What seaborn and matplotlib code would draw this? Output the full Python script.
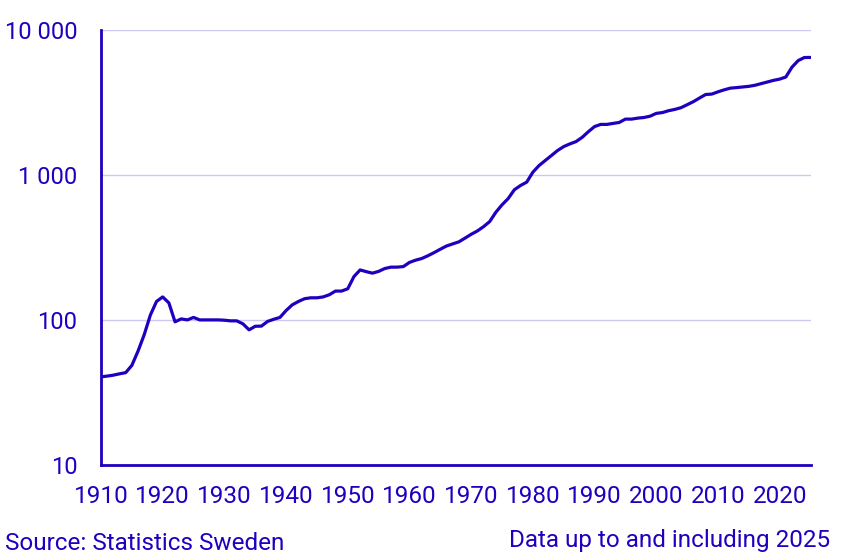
import matplotlib
matplotlib.use("Agg")
import matplotlib.pyplot as plt
import seaborn as sns
import pandas as pd
from matplotlib.ticker import FixedLocator, NullLocator

years = list(range(1910, 2026))
index_values = [
    40.5, 41, 41.6, 42.5, 43.3, 48.6, 60.9, 79, 108, 134,      # 1910-1919
    144, 131, 97, 101.6, 100, 104, 100, 100, 100, 100,         # 1920-1929
    99.5, 98.5, 98.5, 94, 85.4, 90.4, 90.6, 97.6, 101, 104,    # 1930-1939
    116, 127, 134, 140, 142, 142, 144, 149, 158, 158,          # 1940-1949
    164, 199, 221, 215, 210, 216, 226, 231, 231, 233,          # 1950-1959
    249, 258, 265, 277, 291, 307, 323, 334, 345, 366,          # 1960-1969
    389, 410, 439, 476, 552, 621, 686, 789, 844, 890,          # 1970-1979
    1042, 1158, 1254, 1357, 1470, 1565, 1633, 1694, 1813, 1983,  # 1980-1989
    2150, 2225, 2225, 2260, 2295, 2420, 2420, 2458, 2482, 2535,  # 1990-1999
    2650, 2685, 2765, 2822, 2900, 3040, 3190, 3380, 3575, 3600,  # 2000-2009
    3730, 3850, 3955, 3990, 4030, 4070, 4140, 4250, 4360, 4475,  # 2010-2019
    4565, 4720, 5520, 6125, 6430, 6440,                          # 2020-2025
]

y_ticks = [10, 100, 1000, 10000]
y_tick_labels = ["10", "100", "1 000", "10 000"]
x_ticks = list(range(1910, 2021, 10))

df = pd.DataFrame({"year": years, "value": index_values})

blue = "#1E00BE"
grid_col = "#C9C9F2"

sns.set_theme(style="white")
plt.rcParams["font.family"] = ["Roboto", "DejaVu Sans"]

fig = plt.figure(figsize=(8.5, 5.6), dpi=100)
ax = fig.add_axes([101 / 850, 1 - 465 / 560, (810.5 - 101) / 850, (465 - 29.7) / 560])

sns.lineplot(data=df, x="year", y="value", ax=ax, color=blue, linewidth=2.3, zorder=3)

ax.set_yscale("log")
ax.set_ylim(10, 10000)
ax.set_xlim(1910, 2025)
ax.yaxis.set_major_locator(FixedLocator(y_ticks))
ax.yaxis.set_minor_locator(NullLocator())
ax.set_yticklabels(y_tick_labels)
ax.set_xticks(x_ticks)
ax.set_xlabel("")
ax.set_ylabel("")

for v in y_ticks[1:]:
    ax.axhline(v, color=grid_col, linewidth=1, zorder=1)

for side in ["top", "right"]:
    ax.spines[side].set_visible(False)
for side in ["left", "bottom"]:
    ax.spines[side].set_color(blue)
    ax.spines[side].set_linewidth(2)

ax.tick_params(axis="y", which="major", direction="out", length=6, width=2,
               color=blue, labelcolor=blue, labelsize=17, pad=11)
ax.tick_params(axis="x", which="major", direction="out", length=5.5, width=2,
               color=blue, labelcolor=blue, labelsize=17.5, pad=9)

fig.text(5 / 850, 1 - 543 / 560, "Source: Statistics Sweden", color=blue,
         fontsize=17.5, ha="left", va="center")
fig.text(830 / 850, 1 - 541 / 560, "Data up to and including 2025", color=blue,
         fontsize=17.5, ha="right", va="center")

fig.savefig("out.png", dpi=100)
